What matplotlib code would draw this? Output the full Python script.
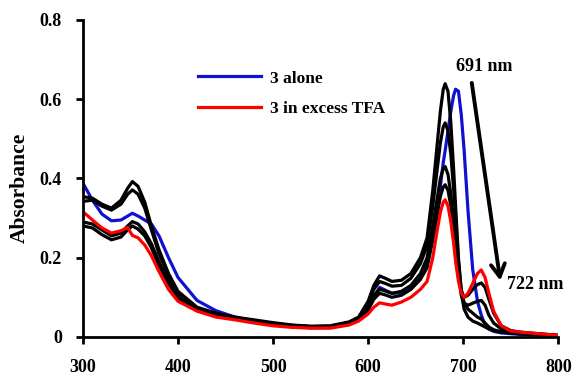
import matplotlib
matplotlib.use('Agg')
import matplotlib.pyplot as plt

# wavelength grid (nm) shared by all spectra
wl = [300, 310, 320, 330, 340, 347, 352, 358, 365, 372, 380, 390, 400, 420, 440,
      460, 480, 500, 520, 540, 560, 580, 590, 600, 606, 612, 618, 625, 635, 645,
      655, 662, 668, 672, 676, 679, 681, 684, 687, 690, 692, 695, 698, 701, 705,
      710, 715, 719, 723, 727, 732, 740, 750, 760, 780, 800]

# 3 alone
blue = [0.388, 0.345, 0.310, 0.293, 0.295, 0.305, 0.312, 0.305, 0.295, 0.285, 0.255, 0.200, 0.150, 0.092, 0.066,
        0.050, 0.040, 0.032, 0.027, 0.024, 0.024, 0.032, 0.045, 0.070, 0.100, 0.125, 0.118, 0.110, 0.112, 0.125,
        0.150, 0.185, 0.250, 0.300, 0.380, 0.440, 0.470, 0.520, 0.570, 0.610, 0.625, 0.620, 0.560, 0.470, 0.320,
        0.170, 0.090, 0.055, 0.030, 0.020, 0.014, 0.010, 0.008, 0.006, 0.004, 0.002]

# 3 in excess TFA
red = [0.316, 0.295, 0.275, 0.262, 0.268, 0.276, 0.256, 0.250, 0.232, 0.205, 0.165, 0.120, 0.090, 0.065, 0.050,
       0.043, 0.035, 0.028, 0.024, 0.022, 0.022, 0.030, 0.040, 0.058, 0.075, 0.086, 0.083, 0.080, 0.088, 0.100,
       0.120, 0.140, 0.200, 0.260, 0.315, 0.340, 0.346, 0.330, 0.290, 0.235, 0.190, 0.140, 0.110, 0.100, 0.110,
       0.135, 0.160, 0.169, 0.150, 0.110, 0.065, 0.028, 0.015, 0.012, 0.008, 0.004]

# intermediate titration spectra
k1 = [0.354, 0.350, 0.335, 0.325, 0.345, 0.375, 0.392, 0.380, 0.340, 0.280, 0.220, 0.160, 0.115, 0.075, 0.060,
      0.050, 0.043, 0.036, 0.030, 0.027, 0.028, 0.038, 0.050, 0.090, 0.130, 0.154, 0.148, 0.140, 0.143, 0.160,
      0.200, 0.250, 0.370, 0.470, 0.570, 0.625, 0.639, 0.620, 0.540, 0.420, 0.330, 0.200, 0.110, 0.070, 0.050,
      0.040, 0.035, 0.030, 0.025, 0.020, 0.016, 0.012, 0.010, 0.008, 0.006, 0.003]
k2 = [0.342, 0.345, 0.330, 0.320, 0.335, 0.360, 0.371, 0.360, 0.325, 0.270, 0.210, 0.155, 0.110, 0.072, 0.058,
      0.048, 0.040, 0.034, 0.029, 0.026, 0.027, 0.036, 0.048, 0.085, 0.120, 0.140, 0.135, 0.128, 0.130, 0.148,
      0.185, 0.230, 0.330, 0.410, 0.490, 0.530, 0.540, 0.520, 0.460, 0.370, 0.300, 0.190, 0.120, 0.085, 0.070,
      0.060, 0.050, 0.045, 0.035, 0.025, 0.018, 0.013, 0.010, 0.008, 0.006, 0.003]
k3 = [0.290, 0.285, 0.270, 0.255, 0.262, 0.280, 0.291, 0.285, 0.265, 0.235, 0.190, 0.140, 0.100, 0.070, 0.057,
      0.047, 0.039, 0.032, 0.027, 0.024, 0.025, 0.034, 0.045, 0.075, 0.105, 0.120, 0.116, 0.110, 0.115, 0.130,
      0.160, 0.200, 0.280, 0.340, 0.400, 0.425, 0.430, 0.410, 0.360, 0.290, 0.240, 0.160, 0.105, 0.085, 0.080,
      0.085, 0.090, 0.092, 0.080, 0.055, 0.035, 0.020, 0.013, 0.010, 0.007, 0.004]
k4 = [0.280, 0.275, 0.258, 0.245, 0.252, 0.270, 0.280, 0.272, 0.255, 0.225, 0.180, 0.135, 0.097, 0.068, 0.055,
      0.046, 0.038, 0.031, 0.026, 0.023, 0.024, 0.033, 0.043, 0.068, 0.095, 0.110, 0.106, 0.100, 0.105, 0.120,
      0.145, 0.175, 0.245, 0.300, 0.355, 0.378, 0.384, 0.370, 0.330, 0.265, 0.220, 0.155, 0.115, 0.100, 0.105,
      0.120, 0.132, 0.136, 0.125, 0.095, 0.060, 0.028, 0.016, 0.012, 0.008, 0.004]
blacks = [k1, k2, k3, k4]

yticks = [0, 0.2, 0.4, 0.6, 0.8]
ytick_labels = ['0', '0.2', '0.4', '0.6', '0.8']
xticks = [300, 400, 500, 600, 700, 800]

plt.rcParams['font.family'] = ['Liberation Serif', 'DejaVu Serif']
plt.rcParams['font.weight'] = 'bold'

fig = plt.figure(figsize=(5.72, 3.76), dpi=100)
ax = fig.add_axes([0.145, 0.104, 0.831, 0.843])

lw = 2.3
ax.plot(wl, blue, color='#1010d0', lw=lw, label='3 alone')
for k in blacks:
    ax.plot(wl, k, color='black', lw=lw)
ax.plot(wl, red, color='#ff0000', lw=lw, label='3 in excess TFA')

ax.set_xlim(300, 800)
ax.set_ylim(0, 0.8)
ax.set_xticks(xticks)
ax.set_yticks(yticks)
ax.set_yticklabels(ytick_labels)
for s in ['top', 'right']:
    ax.spines[s].set_visible(False)
for s in ['left', 'bottom']:
    ax.spines[s].set_linewidth(2)
ax.tick_params(width=2, length=5, labelsize=13)
ax.tick_params(axis='x', pad=11)
ax.tick_params(axis='y', pad=10)
fig.text(19.5 / 572, 1 - 188 / 376, 'Absorbance', rotation=90, ha='center', va='center',
         fontsize=15.5, fontweight='bold')

ax.legend(loc='upper left', bbox_to_anchor=(0.21, 0.89), frameon=False,
          handlelength=3.6, handletextpad=0.5, labelspacing=0.85,
          prop={'size': 12.5, 'weight': 'bold'})

ax.annotate('', xy=(739, 0.142), xytext=(709, 0.641),
            arrowprops=dict(arrowstyle='->, head_width=0.5, head_length=0.9', lw=2.8,
                            color='black', shrinkA=0, shrinkB=0))
ax.text(722, 0.682, '691 nm', ha='center', va='center', fontsize=13, fontweight='bold')
ax.text(746, 0.131, '722 nm', ha='left', va='center', fontsize=13, fontweight='bold')

fig.savefig('out.png', dpi=100)
